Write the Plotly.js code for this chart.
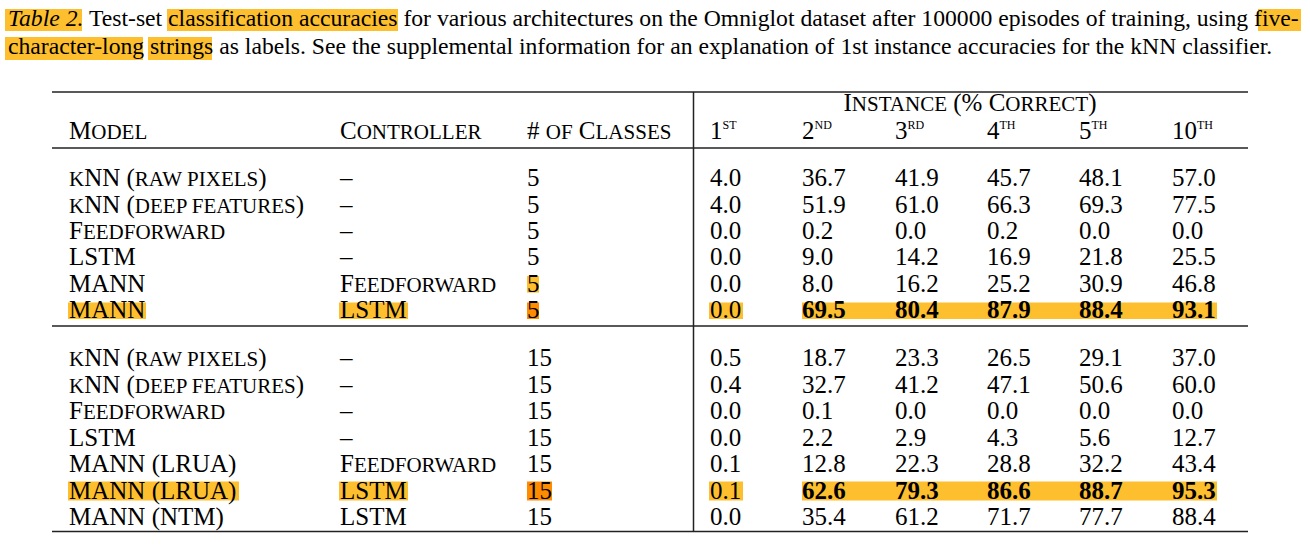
<!DOCTYPE html>
<html>
<head>
<meta charset="utf-8">
<script src="https://cdn.plot.ly/plotly-3.0.1.min.js"></script>
<style>html,body{margin:0;padding:0;background:#fff;}#chart{width:1310px;height:547px;}</style>
</head>
<body>
<div id="chart"></div>
<script>
// ---------------- DATA ----------------
const captionLine1 = '<i>Table 2.</i> Test-set classification accuracies for various architectures on the Omniglot dataset after 100000 episodes of training, using five-';
const captionLine2 = 'character-long strings as labels. See the supplemental information for an explanation of 1st instance accuracies for the kNN classifier.';
const groupHeader = 'Instance (% Correct)';
const columnHeads = ['Model', 'Controller', '# of Classes'];
const instanceHeads = ['1<sup>st</sup>', '2<sup>nd</sup>', '3<sup>rd</sup>', '4<sup>th</sup>', '5<sup>th</sup>', '10<sup>th</sup>'];

const models5 = ['kNN (raw pixels)', 'kNN (deep features)', 'Feedforward', 'LSTM', 'MANN', 'MANN'];
const controllers5 = ['–', '–', '–', '–', 'Feedforward', 'LSTM'];
const classes5 = [5, 5, 5, 5, 5, 5];
const acc5 = [
  [4.0, 36.7, 41.9, 45.7, 48.1, 57.0],
  [4.0, 51.9, 61.0, 66.3, 69.3, 77.5],
  [0.0, 0.2, 0.0, 0.2, 0.0, 0.0],
  [0.0, 9.0, 14.2, 16.9, 21.8, 25.5],
  [0.0, 8.0, 16.2, 25.2, 30.9, 46.8],
  [0.0, 69.5, 80.4, 87.9, 88.4, 93.1]
];
const best5 = 5;

const models15 = ['kNN (raw pixels)', 'kNN (deep features)', 'Feedforward', 'LSTM', 'MANN (LRUA)', 'MANN (LRUA)', 'MANN (NTM)'];
const controllers15 = ['–', '–', '–', '–', 'Feedforward', 'LSTM', 'LSTM'];
const classes15 = [15, 15, 15, 15, 15, 15, 15];
const acc15 = [
  [0.5, 18.7, 23.3, 26.5, 29.1, 37.0],
  [0.4, 32.7, 41.2, 47.1, 50.6, 60.0],
  [0.0, 0.1, 0.0, 0.0, 0.0, 0.0],
  [0.0, 2.2, 2.9, 4.3, 5.6, 12.7],
  [0.1, 12.8, 22.3, 28.8, 32.2, 43.4],
  [0.1, 62.6, 79.3, 86.6, 88.7, 95.3],
  [0.0, 35.4, 61.2, 71.7, 77.7, 88.4]
];
const best15 = 5;

// ---------------- LAYOUT / STYLE ----------------
const FONT = 'Liberation Serif, Times New Roman, serif';
const TABLE_FS = 25;
const SC_FS = 21; // small-caps size
const INK = '#000000';
const YELLOW = '#FDBF2D';
const ORANGE = '#FF8C00';
const RULE = '#222222';

const colModelX = 69, colCtrlX = 340, colClsX = 527;
const instX = [710, 802, 895, 987, 1079, 1172];
const headerY = 133, groupHeaderY = 105, groupHeaderX = 970;
const y5 = models5.map((_, i) => 180 + i * 26.4);
const y15 = models15.map((_, i) => 360 + i * 26.5);

// manual small caps: lowercase runs -> smaller uppercase
function smallCaps(s) {
  return s.replace(/[a-z]+(?:\s+[a-z]+)*/g, m => '<span style="font-size:' + SC_FS + 'px">' + m.toUpperCase() + '</span>');
}

// fit caption size to span of line 1 (x 8 .. 1300)
function measure(html, fs) {
  const c = document.createElement('canvas').getContext('2d');
  const parts = html.split(/(<i>.*?<\/i>)/).filter(s => s.length);
  let w = 0;
  parts.forEach(p => {
    const it = p.startsWith('<i>');
    c.font = (it ? 'italic ' : '') + fs + 'px "Liberation Serif"';
    w += c.measureText(p.replace(/<\/?i>/g, '')).width;
  });
  return w;
}
const capX = 8;
let CAP_FS = 100 * (1300 - capX) / measure(captionLine1, 100);
if (!isFinite(CAP_FS) || CAP_FS < 15 || CAP_FS > 30) CAP_FS = 22;

function fmt(v) { return v.toFixed(1); }

const traces = [];
function textTrace(xs, ys, texts, fs, opts) {
  traces.push(Object.assign({
    type: 'scatter', mode: 'text', x: xs, y: ys, text: texts,
    textposition: 'middle right', cliponaxis: false, hoverinfo: 'skip',
    marker: {size: 0},
    textfont: {family: FONT, size: fs, color: INK}
  }, opts || {}));
}

// caption
textTrace([capX, capX], [20.5, 48.5], [captionLine1, captionLine2], CAP_FS);

// headers
textTrace([groupHeaderX], [groupHeaderY], [smallCaps(groupHeader)], TABLE_FS, {textposition: 'middle center'});
textTrace([colModelX, colCtrlX, colClsX], [headerY, headerY, headerY], columnHeads.map(smallCaps), TABLE_FS);
textTrace(instX, instX.map(() => headerY), instanceHeads, TABLE_FS,
  {textfont: {family: FONT, size: TABLE_FS, color: INK, variant: 'small-caps'}});

// body
function group(models, ctrls, classes, acc, ys, best) {
  textTrace(models.map(() => colModelX), ys, models.map(smallCaps), TABLE_FS);
  textTrace(ctrls.map(() => colCtrlX), ys, ctrls.map(smallCaps), TABLE_FS);
  textTrace(classes.map(() => colClsX), ys, classes.map(String), TABLE_FS);
  instX.forEach((x, j) => {
    textTrace(acc.map(() => x), ys, acc.map((r, i) => (i === best && j > 0) ? '<b>' + fmt(r[j]) + '</b>' : fmt(r[j])), TABLE_FS);
  });
}
group(models5, controllers5, classes5, acc5, y5, best5);
group(models15, controllers15, classes15, acc15, y15, best15);

// ---------------- SHAPES ----------------
const shapes = [];
function rect(x0, x1, y0, y1, color) {
  shapes.push({type: 'rect', xref: 'x', yref: 'y', x0, x1, y0, y1, fillcolor: color, line: {width: 0}, layer: 'below'});
}
function line(x0, y0, x1, y1, w) {
  shapes.push({type: 'line', xref: 'x', yref: 'y', x0, y0, x1, y1, line: {color: RULE, width: w}, layer: 'above'});
}
// caption highlights
rect(5, 82, 9, 31, YELLOW);
rect(167, 398, 9, 31, YELLOW);
rect(1258, 1301, 9, 31, YELLOW);
rect(5, 143, 37, 60, YELLOW);
rect(148, 212, 37, 60, YELLOW);
// table highlights, 5-class group (visual centre = y - 2)
const yb5 = y5[best5] - 2;
rect(68, 146, yb5 - 7.5, yb5 + 9, YELLOW);
rect(339, 408, yb5 - 7.5, yb5 + 9, YELLOW);
rect(527, 539, yb5 - 7.5, yb5 + 9, ORANGE);
rect(709, 743, yb5 - 7.5, yb5 + 9, YELLOW);
rect(802, 1217, yb5 - 7.5, yb5 + 9, YELLOW);
const yp5 = y5[best5 - 1] - 2;
rect(527, 539, yp5 - 7.5, yp5 + 9, YELLOW);
// 15-class group
const yb15 = y15[best15] - 2;
rect(68, 239, yb15 - 9, yb15 + 10, YELLOW);
rect(339, 408, yb15 - 9, yb15 + 10, YELLOW);
rect(527, 552, yb15 - 9, yb15 + 10, ORANGE);
rect(709, 743, yb15 - 9, yb15 + 10, YELLOW);
rect(802, 1217, yb15 - 9, yb15 + 10, YELLOW);
// rules
line(52, 92, 1248, 92, 1.5);
line(52, 148, 1248, 148, 1.5);
line(52, 326, 1248, 326, 1.5);
line(52, 531.5, 1248, 531.5, 1.5);
line(693.5, 92, 693.5, 531.5, 1.5);

const layout = {
  width: 1310, height: 547,
  margin: {l: 0, r: 0, t: 0, b: 0, pad: 0},
  paper_bgcolor: '#ffffff', plot_bgcolor: '#ffffff',
  showlegend: false,
  xaxis: {range: [0, 1310], visible: false, fixedrange: true},
  yaxis: {range: [547, 0], visible: false, fixedrange: true},
  shapes: shapes
};
Plotly.newPlot('chart', traces, layout, {staticPlot: true, displayModeBar: false});
</script>
</body>
</html>
